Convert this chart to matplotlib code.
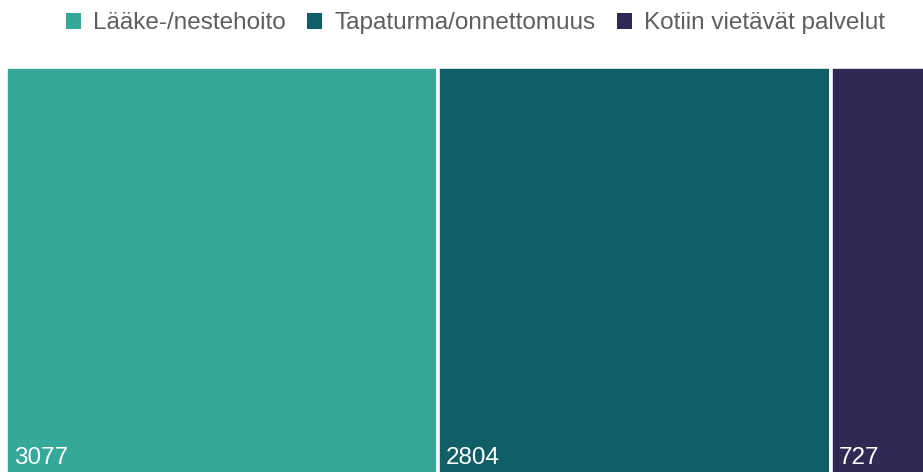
import matplotlib.pyplot as plt
from matplotlib.patches import Patch

# data
categories = ["Lääke-/nestehoito", "Tapaturma/onnettomuus", "Kotiin vietävät palvelut"]
values = [3077, 2804, 727]
colors = ["#35A899", "#115F66", "#2E2A54"]

plt.rcParams['font.family'] = ['Liberation Sans', 'DejaVu Sans']

fig = plt.figure(figsize=(9.23, 4.72), dpi=100)
# the plot area runs a little past the right and bottom edges, as in the original
ax = fig.add_axes([6 / 923, -3 / 472, 927 / 923, 408 / 472])

total = sum(values)
left = 0
for cat, v, c in zip(categories, values, colors):
    ax.bar(left, 1, width=v, align='edge', color=c, edgecolor='white', linewidth=2.6)
    ax.text(left + total * 0.0085, 0.015, str(v), color='white', fontsize=17.5,
            ha='left', va='bottom')
    left += v

ax.set_xlim(0, total)
ax.set_ylim(0, 1)
ax.axis('off')

handles = [Patch(facecolor=c, label=cat) for cat, c in zip(categories, colors)]
fig.legend(handles=handles, loc='upper center', bbox_to_anchor=(0.515, 1.02), ncol=3,
           frameon=False, fontsize=17.5, labelcolor='#605E5C', handlelength=0.6,
           handleheight=0.6, handletextpad=0.5, columnspacing=0.9)

fig.savefig('out.png', dpi=100)
